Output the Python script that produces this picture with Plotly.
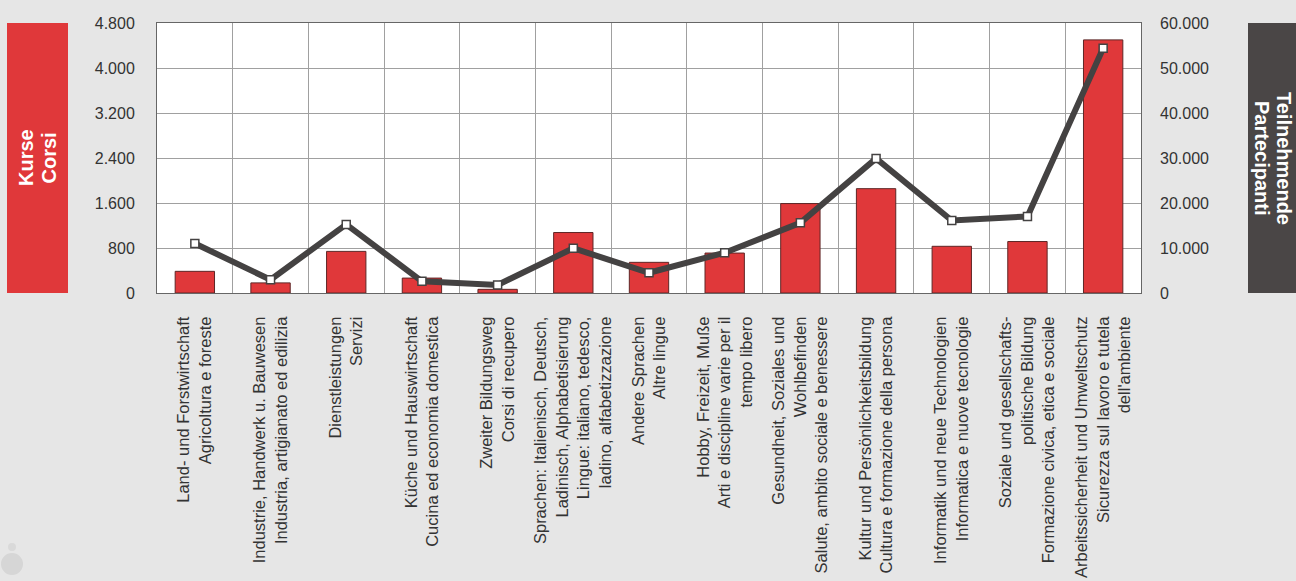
import plotly.graph_objects as go

categories = [
    "Land- und Forstwirtschaft<br>Agricoltura e foreste",
    "Industrie, Handwerk u. Bauwesen<br>Industria, artigianato ed edilizia",
    "Dienstleistungen<br>Servizi",
    "Küche und Hauswirtschaft<br>Cucina ed economia domestica",
    "Zweiter Bildungsweg<br>Corsi di recupero",
    "Sprachen: Italienisch, Deutsch,<br>Ladinisch, Alphabetisierung<br>Lingue: italiano, tedesco,<br>ladino, alfabetizzazione",
    "Andere Sprachen<br>Altre lingue",
    "Hobby, Freizeit, Muße<br>Arti e discipline varie per il<br>tempo libero",
    "Gesundheit, Soziales und<br>Wohlbefinden<br>Salute, ambito sociale e benessere",
    "Kultur und Persönlichkeitsbildung<br>Cultura e formazione della persona",
    "Informatik und neue Technologien<br>Informatica e nuove tecnologie",
    "Soziale und gesellschafts-<br>politische Bildung<br>Formazione civica, etica e sociale",
    "Arbeitssicherheit und Umweltschutz<br>Sicurezza sul lavoro e tutela<br>dell'ambiente",
]

kurse = [385, 180, 740, 265, 65, 1075, 545, 710, 1590, 1855, 830, 915, 4500]
teilnehmende = [11000, 2950, 15250, 2600, 1800, 9950, 4500, 8950, 15600, 29900, 16100, 17000, 54400]

left_ticks = [0, 800, 1600, 2400, 3200, 4000, 4800]
right_ticks = [0, 10000, 20000, 30000, 40000, 50000, 60000]

left_title_lines = ["Kurse", "Corsi"]
right_title_lines = ["Teilnehmende", "Partecipanti"]

RED = "#e0383a"
DARK = "#444242"
BG = "#e6e6e6"
FONT = "Liberation Sans, Arial, sans-serif"

fig = go.Figure()
fig.add_trace(go.Bar(
    x=categories, y=kurse, width=0.52,
    marker=dict(color=RED, line=dict(color="#5e2626", width=1)),
    yaxis="y", showlegend=False, hoverinfo="skip",
))
fig.add_trace(go.Scatter(
    x=categories, y=teilnehmende, mode="lines+markers",
    line=dict(color=DARK, width=6),
    marker=dict(symbol="square", size=8, color="white", line=dict(color=DARK, width=1.5)),
    yaxis="y2", showlegend=False, hoverinfo="skip",
))

fig.update_layout(
    width=1296, height=581,
    margin=dict(l=157, r=155, t=23, b=287.5, autoexpand=False),
    paper_bgcolor=BG, plot_bgcolor="white",
    font=dict(family=FONT, size=16, color="#333333"),
    separators=",.",
    xaxis=dict(
        type="category", tickson="boundaries", tickangle=-90,
        showgrid=True, gridcolor="#a0a0a0", gridwidth=1,
        showline=True, linecolor="#666666", linewidth=1, mirror=True,
        ticks="", ticklabelstandoff=16, automargin=False,
        tickfont=dict(size=16.5, color="#333333"),
        range=[-0.5, 12.5],
    ),
    yaxis=dict(
        range=[0, 4800], tickvals=left_ticks, tickformat=",d",
        showgrid=True, gridcolor="#a0a0a0", gridwidth=1,
        showline=True, linecolor="#666666", linewidth=1, mirror=True,
        zeroline=False, ticks="", ticklabelstandoff=18, automargin=False,
        tickfont=dict(size=16, color="#333333"),
    ),
    yaxis2=dict(
        range=[0, 60000], tickvals=right_ticks, tickformat=",d",
        overlaying="y", side="right", showgrid=False, zeroline=False,
        ticks="", ticklabelstandoff=18, automargin=False,
        tickfont=dict(size=16, color="#333333"),
    ),
    bargap=0.48,
)

# side label boxes
fig.add_shape(type="rect", xref="paper", yref="paper",
              x0=(7 - 157) / 984, x1=(68 - 157) / 984, y0=0, y1=1,
              fillcolor=RED, line=dict(width=0), layer="below")
fig.add_shape(type="rect", xref="paper", yref="paper",
              x0=(1248 - 157) / 984, x1=(1310 - 157) / 984, y0=0, y1=1,
              fillcolor="#4a4646", line=dict(width=0), layer="below")

for txt, px in zip(left_title_lines, [26, 48.5]):
    fig.add_annotation(xref="paper", yref="paper", x=(px - 157) / 984, y=0.5,
                       xanchor="center", yanchor="middle",
                       text="<b>" + txt + "</b>", textangle=-90, showarrow=False,
                       font=dict(family=FONT, size=20, color="#ffffff"))
for txt, px in zip(right_title_lines, [1284, 1262]):
    fig.add_annotation(xref="paper", yref="paper", x=(px - 157) / 984, y=0.5,
                       xanchor="center", yanchor="middle",
                       text="<b>" + txt + "</b>", textangle=90, showarrow=False,
                       font=dict(family=FONT, size=20, color="#ffffff"))

# faint decorative circles (bottom left)
for cx, cy, r, c in [(12, 565, 11, "#d6d6d6"), (12, 548, 4, "#d9d9d9")]:
    fig.add_shape(type="circle", xref="paper", yref="paper",
                  x0=(cx - r - 157) / 984, x1=(cx + r - 157) / 984,
                  y0=(293.5 - (cy + r)) / 270.5, y1=(293.5 - (cy - r)) / 270.5,
                  fillcolor=c, line=dict(width=0), layer="below")

fig.write_html(
    "out.html",
    config={"displayModeBar": False},
    post_script="document.body.style.margin='0';document.body.style.padding='0';"
                "document.body.style.overflow='hidden';document.body.style.background='" + BG + "';",
)
